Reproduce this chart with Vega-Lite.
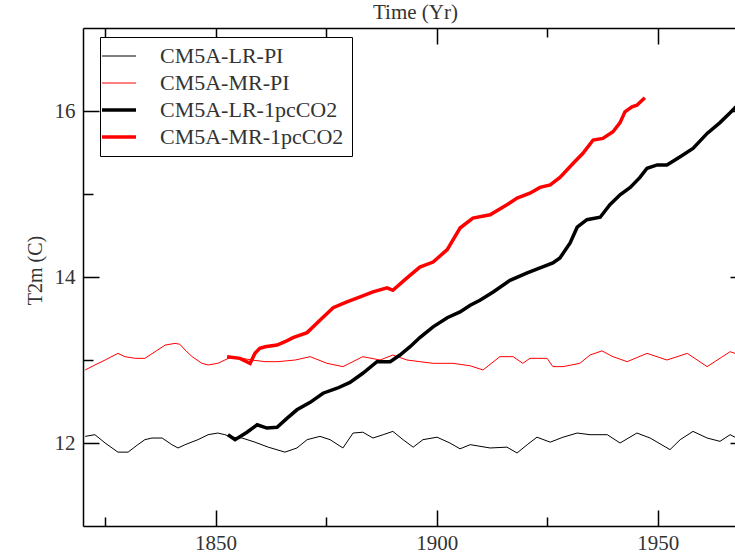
{
  "$schema": "https://vega.github.io/schema/vega-lite/v6.json",
  "autosize": "none",
  "width": 652,
  "height": 498,
  "padding": {"top": 28, "left": 83, "right": 0, "bottom": 29},
  "background": "white",
  "config": {
    "view": {"stroke": null},
    "font": "Liberation Serif",
    "axis": {"labelFont": "Liberation Serif", "titleFont": "Liberation Serif", "labelColor": "#333", "titleColor": "#333", "titleFontWeight": "normal", "domainColor": "black", "domainWidth": 1.5, "gridColor": "black", "gridOpacity": 1, "gridWidth": 1.5, "ticks": false},
    "legend": {"labelFont": "Liberation Serif"}
  },
  "datasets": {
    "thin": [
      {"year": 1820.5, "t": 12.08, "series": "CM5A-LR-PI"},
      {"year": 1822.7, "t": 12.10, "series": "CM5A-LR-PI"},
      {"year": 1825.0, "t": 12.00, "series": "CM5A-LR-PI"},
      {"year": 1827.9, "t": 11.89, "series": "CM5A-LR-PI"},
      {"year": 1830.2, "t": 11.89, "series": "CM5A-LR-PI"},
      {"year": 1832.4, "t": 11.98, "series": "CM5A-LR-PI"},
      {"year": 1834.0, "t": 12.04, "series": "CM5A-LR-PI"},
      {"year": 1835.6, "t": 12.06, "series": "CM5A-LR-PI"},
      {"year": 1837.9, "t": 12.06, "series": "CM5A-LR-PI"},
      {"year": 1840.1, "t": 11.98, "series": "CM5A-LR-PI"},
      {"year": 1841.5, "t": 11.94, "series": "CM5A-LR-PI"},
      {"year": 1843.1, "t": 11.98, "series": "CM5A-LR-PI"},
      {"year": 1846.0, "t": 12.04, "series": "CM5A-LR-PI"},
      {"year": 1848.3, "t": 12.10, "series": "CM5A-LR-PI"},
      {"year": 1850.5, "t": 12.12, "series": "CM5A-LR-PI"},
      {"year": 1852.1, "t": 12.10, "series": "CM5A-LR-PI"},
      {"year": 1853.7, "t": 12.07, "series": "CM5A-LR-PI"},
      {"year": 1856.0, "t": 12.06, "series": "CM5A-LR-PI"},
      {"year": 1858.9, "t": 12.01, "series": "CM5A-LR-PI"},
      {"year": 1861.9, "t": 11.95, "series": "CM5A-LR-PI"},
      {"year": 1865.7, "t": 11.89, "series": "CM5A-LR-PI"},
      {"year": 1868.4, "t": 11.94, "series": "CM5A-LR-PI"},
      {"year": 1870.7, "t": 12.04, "series": "CM5A-LR-PI"},
      {"year": 1873.6, "t": 12.08, "series": "CM5A-LR-PI"},
      {"year": 1875.9, "t": 12.04, "series": "CM5A-LR-PI"},
      {"year": 1878.8, "t": 11.94, "series": "CM5A-LR-PI"},
      {"year": 1881.1, "t": 12.12, "series": "CM5A-LR-PI"},
      {"year": 1883.3, "t": 12.13, "series": "CM5A-LR-PI"},
      {"year": 1885.6, "t": 12.06, "series": "CM5A-LR-PI"},
      {"year": 1887.9, "t": 12.10, "series": "CM5A-LR-PI"},
      {"year": 1890.1, "t": 12.14, "series": "CM5A-LR-PI"},
      {"year": 1892.4, "t": 12.04, "series": "CM5A-LR-PI"},
      {"year": 1894.7, "t": 11.95, "series": "CM5A-LR-PI"},
      {"year": 1896.9, "t": 12.04, "series": "CM5A-LR-PI"},
      {"year": 1900.1, "t": 12.07, "series": "CM5A-LR-PI"},
      {"year": 1903.0, "t": 12.00, "series": "CM5A-LR-PI"},
      {"year": 1905.3, "t": 11.93, "series": "CM5A-LR-PI"},
      {"year": 1907.6, "t": 11.98, "series": "CM5A-LR-PI"},
      {"year": 1912.1, "t": 11.94, "series": "CM5A-LR-PI"},
      {"year": 1915.9, "t": 11.95, "series": "CM5A-LR-PI"},
      {"year": 1918.2, "t": 11.88, "series": "CM5A-LR-PI"},
      {"year": 1920.5, "t": 11.98, "series": "CM5A-LR-PI"},
      {"year": 1922.7, "t": 12.07, "series": "CM5A-LR-PI"},
      {"year": 1925.7, "t": 12.01, "series": "CM5A-LR-PI"},
      {"year": 1928.6, "t": 12.07, "series": "CM5A-LR-PI"},
      {"year": 1931.8, "t": 12.12, "series": "CM5A-LR-PI"},
      {"year": 1934.7, "t": 12.10, "series": "CM5A-LR-PI"},
      {"year": 1938.6, "t": 12.10, "series": "CM5A-LR-PI"},
      {"year": 1941.5, "t": 12.00, "series": "CM5A-LR-PI"},
      {"year": 1945.3, "t": 12.12, "series": "CM5A-LR-PI"},
      {"year": 1948.3, "t": 12.06, "series": "CM5A-LR-PI"},
      {"year": 1952.8, "t": 11.92, "series": "CM5A-LR-PI"},
      {"year": 1955.1, "t": 12.04, "series": "CM5A-LR-PI"},
      {"year": 1958.0, "t": 12.14, "series": "CM5A-LR-PI"},
      {"year": 1961.2, "t": 12.06, "series": "CM5A-LR-PI"},
      {"year": 1964.1, "t": 12.02, "series": "CM5A-LR-PI"},
      {"year": 1966.4, "t": 12.10, "series": "CM5A-LR-PI"},
      {"year": 1967.5, "t": 12.07, "series": "CM5A-LR-PI"},
      {"year": 1969.5, "t": 12.05, "series": "CM5A-LR-PI"},
      {"year": 1820.5, "t": 12.88, "series": "CM5A-MR-PI"},
      {"year": 1822.7, "t": 12.94, "series": "CM5A-MR-PI"},
      {"year": 1825.0, "t": 13.00, "series": "CM5A-MR-PI"},
      {"year": 1827.9, "t": 13.08, "series": "CM5A-MR-PI"},
      {"year": 1829.5, "t": 13.04, "series": "CM5A-MR-PI"},
      {"year": 1831.8, "t": 13.02, "series": "CM5A-MR-PI"},
      {"year": 1834.0, "t": 13.02, "series": "CM5A-MR-PI"},
      {"year": 1836.3, "t": 13.10, "series": "CM5A-MR-PI"},
      {"year": 1838.6, "t": 13.18, "series": "CM5A-MR-PI"},
      {"year": 1840.8, "t": 13.20, "series": "CM5A-MR-PI"},
      {"year": 1841.9, "t": 13.19, "series": "CM5A-MR-PI"},
      {"year": 1843.1, "t": 13.12, "series": "CM5A-MR-PI"},
      {"year": 1844.7, "t": 13.04, "series": "CM5A-MR-PI"},
      {"year": 1846.9, "t": 12.96, "series": "CM5A-MR-PI"},
      {"year": 1848.3, "t": 12.94, "series": "CM5A-MR-PI"},
      {"year": 1850.5, "t": 12.96, "series": "CM5A-MR-PI"},
      {"year": 1852.1, "t": 13.00, "series": "CM5A-MR-PI"},
      {"year": 1853.7, "t": 13.04, "series": "CM5A-MR-PI"},
      {"year": 1856.0, "t": 13.02, "series": "CM5A-MR-PI"},
      {"year": 1858.2, "t": 13.00, "series": "CM5A-MR-PI"},
      {"year": 1861.2, "t": 12.98, "series": "CM5A-MR-PI"},
      {"year": 1864.1, "t": 12.98, "series": "CM5A-MR-PI"},
      {"year": 1868.0, "t": 13.00, "series": "CM5A-MR-PI"},
      {"year": 1871.4, "t": 13.04, "series": "CM5A-MR-PI"},
      {"year": 1875.2, "t": 12.96, "series": "CM5A-MR-PI"},
      {"year": 1878.8, "t": 12.92, "series": "CM5A-MR-PI"},
      {"year": 1883.3, "t": 13.04, "series": "CM5A-MR-PI"},
      {"year": 1887.2, "t": 13.00, "series": "CM5A-MR-PI"},
      {"year": 1890.1, "t": 13.06, "series": "CM5A-MR-PI"},
      {"year": 1893.3, "t": 13.00, "series": "CM5A-MR-PI"},
      {"year": 1896.2, "t": 12.98, "series": "CM5A-MR-PI"},
      {"year": 1899.2, "t": 12.96, "series": "CM5A-MR-PI"},
      {"year": 1903.7, "t": 12.96, "series": "CM5A-MR-PI"},
      {"year": 1907.6, "t": 12.93, "series": "CM5A-MR-PI"},
      {"year": 1910.5, "t": 12.88, "series": "CM5A-MR-PI"},
      {"year": 1914.3, "t": 13.04, "series": "CM5A-MR-PI"},
      {"year": 1917.3, "t": 13.04, "series": "CM5A-MR-PI"},
      {"year": 1919.5, "t": 12.96, "series": "CM5A-MR-PI"},
      {"year": 1921.1, "t": 13.02, "series": "CM5A-MR-PI"},
      {"year": 1925.0, "t": 13.02, "series": "CM5A-MR-PI"},
      {"year": 1926.3, "t": 12.92, "series": "CM5A-MR-PI"},
      {"year": 1928.6, "t": 12.92, "series": "CM5A-MR-PI"},
      {"year": 1932.4, "t": 12.96, "series": "CM5A-MR-PI"},
      {"year": 1934.7, "t": 13.06, "series": "CM5A-MR-PI"},
      {"year": 1937.4, "t": 13.11, "series": "CM5A-MR-PI"},
      {"year": 1939.9, "t": 13.04, "series": "CM5A-MR-PI"},
      {"year": 1943.1, "t": 12.98, "series": "CM5A-MR-PI"},
      {"year": 1947.6, "t": 13.08, "series": "CM5A-MR-PI"},
      {"year": 1952.1, "t": 13.00, "series": "CM5A-MR-PI"},
      {"year": 1956.7, "t": 13.08, "series": "CM5A-MR-PI"},
      {"year": 1961.2, "t": 12.92, "series": "CM5A-MR-PI"},
      {"year": 1966.4, "t": 13.10, "series": "CM5A-MR-PI"},
      {"year": 1967.5, "t": 13.08, "series": "CM5A-MR-PI"},
      {"year": 1969.5, "t": 13.07, "series": "CM5A-MR-PI"}
    ],
    "thick": [
      {"year": 1852.8, "t": 12.10, "series": "CM5A-LR-1pcCO2"},
      {"year": 1854.4, "t": 12.04, "series": "CM5A-LR-1pcCO2"},
      {"year": 1857.1, "t": 12.13, "series": "CM5A-LR-1pcCO2"},
      {"year": 1859.4, "t": 12.22, "series": "CM5A-LR-1pcCO2"},
      {"year": 1861.6, "t": 12.18, "series": "CM5A-LR-1pcCO2"},
      {"year": 1863.9, "t": 12.19, "series": "CM5A-LR-1pcCO2"},
      {"year": 1866.2, "t": 12.30, "series": "CM5A-LR-1pcCO2"},
      {"year": 1868.4, "t": 12.40, "series": "CM5A-LR-1pcCO2"},
      {"year": 1871.4, "t": 12.49, "series": "CM5A-LR-1pcCO2"},
      {"year": 1874.3, "t": 12.60, "series": "CM5A-LR-1pcCO2"},
      {"year": 1877.5, "t": 12.66, "series": "CM5A-LR-1pcCO2"},
      {"year": 1880.4, "t": 12.73, "series": "CM5A-LR-1pcCO2"},
      {"year": 1883.3, "t": 12.84, "series": "CM5A-LR-1pcCO2"},
      {"year": 1886.5, "t": 12.98, "series": "CM5A-LR-1pcCO2"},
      {"year": 1889.5, "t": 12.98, "series": "CM5A-LR-1pcCO2"},
      {"year": 1891.7, "t": 13.06, "series": "CM5A-LR-1pcCO2"},
      {"year": 1894.0, "t": 13.16, "series": "CM5A-LR-1pcCO2"},
      {"year": 1896.2, "t": 13.27, "series": "CM5A-LR-1pcCO2"},
      {"year": 1899.2, "t": 13.40, "series": "CM5A-LR-1pcCO2"},
      {"year": 1902.4, "t": 13.51, "series": "CM5A-LR-1pcCO2"},
      {"year": 1905.3, "t": 13.58, "series": "CM5A-LR-1pcCO2"},
      {"year": 1907.6, "t": 13.66, "series": "CM5A-LR-1pcCO2"},
      {"year": 1909.8, "t": 13.72, "series": "CM5A-LR-1pcCO2"},
      {"year": 1912.8, "t": 13.82, "series": "CM5A-LR-1pcCO2"},
      {"year": 1916.6, "t": 13.96, "series": "CM5A-LR-1pcCO2"},
      {"year": 1920.5, "t": 14.05, "series": "CM5A-LR-1pcCO2"},
      {"year": 1923.4, "t": 14.11, "series": "CM5A-LR-1pcCO2"},
      {"year": 1926.3, "t": 14.17, "series": "CM5A-LR-1pcCO2"},
      {"year": 1927.9, "t": 14.23, "series": "CM5A-LR-1pcCO2"},
      {"year": 1930.2, "t": 14.41, "series": "CM5A-LR-1pcCO2"},
      {"year": 1931.8, "t": 14.60, "series": "CM5A-LR-1pcCO2"},
      {"year": 1934.0, "t": 14.69, "series": "CM5A-LR-1pcCO2"},
      {"year": 1937.0, "t": 14.72, "series": "CM5A-LR-1pcCO2"},
      {"year": 1939.2, "t": 14.87, "series": "CM5A-LR-1pcCO2"},
      {"year": 1941.5, "t": 14.99, "series": "CM5A-LR-1pcCO2"},
      {"year": 1943.8, "t": 15.08, "series": "CM5A-LR-1pcCO2"},
      {"year": 1946.0, "t": 15.20, "series": "CM5A-LR-1pcCO2"},
      {"year": 1947.6, "t": 15.31, "series": "CM5A-LR-1pcCO2"},
      {"year": 1949.9, "t": 15.35, "series": "CM5A-LR-1pcCO2"},
      {"year": 1952.1, "t": 15.35, "series": "CM5A-LR-1pcCO2"},
      {"year": 1955.1, "t": 15.45, "series": "CM5A-LR-1pcCO2"},
      {"year": 1958.0, "t": 15.55, "series": "CM5A-LR-1pcCO2"},
      {"year": 1961.2, "t": 15.73, "series": "CM5A-LR-1pcCO2"},
      {"year": 1964.1, "t": 15.86, "series": "CM5A-LR-1pcCO2"},
      {"year": 1966.4, "t": 15.98, "series": "CM5A-LR-1pcCO2"},
      {"year": 1967.5, "t": 16.04, "series": "CM5A-LR-1pcCO2"},
      {"year": 1969.5, "t": 16.14, "series": "CM5A-LR-1pcCO2"},
      {"year": 1852.6, "t": 13.04, "series": "CM5A-MR-1pcCO2"},
      {"year": 1855.5, "t": 13.02, "series": "CM5A-MR-1pcCO2"},
      {"year": 1857.8, "t": 12.96, "series": "CM5A-MR-1pcCO2"},
      {"year": 1858.9, "t": 13.08, "series": "CM5A-MR-1pcCO2"},
      {"year": 1860.0, "t": 13.14, "series": "CM5A-MR-1pcCO2"},
      {"year": 1861.2, "t": 13.16, "series": "CM5A-MR-1pcCO2"},
      {"year": 1863.9, "t": 13.18, "series": "CM5A-MR-1pcCO2"},
      {"year": 1865.7, "t": 13.22, "series": "CM5A-MR-1pcCO2"},
      {"year": 1867.5, "t": 13.27, "series": "CM5A-MR-1pcCO2"},
      {"year": 1870.7, "t": 13.33, "series": "CM5A-MR-1pcCO2"},
      {"year": 1873.6, "t": 13.48, "series": "CM5A-MR-1pcCO2"},
      {"year": 1876.6, "t": 13.63, "series": "CM5A-MR-1pcCO2"},
      {"year": 1879.7, "t": 13.70, "series": "CM5A-MR-1pcCO2"},
      {"year": 1882.7, "t": 13.76, "series": "CM5A-MR-1pcCO2"},
      {"year": 1885.6, "t": 13.82, "series": "CM5A-MR-1pcCO2"},
      {"year": 1888.8, "t": 13.87, "series": "CM5A-MR-1pcCO2"},
      {"year": 1890.1, "t": 13.84, "series": "CM5A-MR-1pcCO2"},
      {"year": 1893.3, "t": 13.99, "series": "CM5A-MR-1pcCO2"},
      {"year": 1896.2, "t": 14.12, "series": "CM5A-MR-1pcCO2"},
      {"year": 1899.2, "t": 14.18, "series": "CM5A-MR-1pcCO2"},
      {"year": 1902.4, "t": 14.33, "series": "CM5A-MR-1pcCO2"},
      {"year": 1905.3, "t": 14.59, "series": "CM5A-MR-1pcCO2"},
      {"year": 1908.2, "t": 14.71, "series": "CM5A-MR-1pcCO2"},
      {"year": 1912.1, "t": 14.75, "series": "CM5A-MR-1pcCO2"},
      {"year": 1915.9, "t": 14.87, "series": "CM5A-MR-1pcCO2"},
      {"year": 1918.2, "t": 14.95, "series": "CM5A-MR-1pcCO2"},
      {"year": 1921.1, "t": 15.01, "series": "CM5A-MR-1pcCO2"},
      {"year": 1923.4, "t": 15.08, "series": "CM5A-MR-1pcCO2"},
      {"year": 1925.7, "t": 15.11, "series": "CM5A-MR-1pcCO2"},
      {"year": 1927.9, "t": 15.20, "series": "CM5A-MR-1pcCO2"},
      {"year": 1930.9, "t": 15.37, "series": "CM5A-MR-1pcCO2"},
      {"year": 1933.1, "t": 15.49, "series": "CM5A-MR-1pcCO2"},
      {"year": 1935.4, "t": 15.65, "series": "CM5A-MR-1pcCO2"},
      {"year": 1937.6, "t": 15.67, "series": "CM5A-MR-1pcCO2"},
      {"year": 1939.9, "t": 15.75, "series": "CM5A-MR-1pcCO2"},
      {"year": 1941.5, "t": 15.86, "series": "CM5A-MR-1pcCO2"},
      {"year": 1942.6, "t": 15.99, "series": "CM5A-MR-1pcCO2"},
      {"year": 1944.2, "t": 16.05, "series": "CM5A-MR-1pcCO2"},
      {"year": 1945.3, "t": 16.07, "series": "CM5A-MR-1pcCO2"},
      {"year": 1947.1, "t": 16.16, "series": "CM5A-MR-1pcCO2"}
    ]
  },
  "resolve": {"scale": {"x": "independent", "y": "independent"}, "axis": {"x": "independent", "y": "independent"}},
  "layer": [
    {
      "data": {"name": "thin"},
      "mark": {"type": "line", "clip": true, "strokeWidth": 1},
      "encoding": {
        "x": {"field": "year", "type": "quantitative",
          "scale": {"domain": [1820, 1967.5], "nice": false, "zero": false},
          "axis": {"orient": "bottom", "values": [1825, 1850, 1875, 1900, 1925, 1950], "format": "d",
            "labelExpr": "datum.value % 50 === 0 ? datum.label : ''",
            "labelFontSize": 21, "labelPadding": 6, "grid": true,
            "gridDash": {"condition": {"test": "datum.value % 50 === 0", "value": [16, 466, 16]}, "value": [9, 480, 9]},
            "title": null}},
        "y": {"field": "t", "type": "quantitative",
          "scale": {"domain": [11, 17], "nice": false, "zero": false},
          "axis": {"orient": "left", "values": [12, 13, 14, 15, 16],
            "labelExpr": "datum.value % 2 === 0 ? datum.label : ''",
            "labelFontSize": 21, "labelPadding": 8, "grid": true,
            "gridDash": {"condition": {"test": "datum.value % 2 === 0", "value": [16, 631, 16]}, "value": [10, 700]},
            "title": "T2m (C)", "titleFontSize": 20, "titlePadding": 9, "titleY": 242}},
        "color": {"field": "series", "type": "nominal",
          "scale": {"domain": ["CM5A-LR-PI", "CM5A-MR-PI", "CM5A-LR-1pcCO2", "CM5A-MR-1pcCO2"], "range": ["#000000", "#ff0000", "#000000", "#ff0000"]},
          "legend": {"orient": "none", "legendX": 17, "legendY": 9, "title": null,
            "symbolType": "stroke", "symbolSize": 1156, "labelOffset": 30, "labelFontSize": 22, "labelLimit": 400,
            "labelColor": "#333", "rowPadding": 5, "padding": 8, "fillColor": "white",
            "strokeColor": "black",
            "encode": {"symbols": {"update": {"strokeWidth": {"signal": "indexof(['CM5A-LR-1pcCO2', 'CM5A-MR-1pcCO2'], datum.value) >= 0 ? 3.5 : 1"}}}}}}
      }
    },
    {
      "data": {"name": "thick"},
      "mark": {"type": "line", "clip": true, "strokeWidth": 3.5},
      "encoding": {
        "x": {"field": "year", "type": "quantitative",
          "scale": {"domain": [1820, 1967.5], "nice": false, "zero": false},
          "axis": {"orient": "top", "labels": false, "grid": false, "title": "Time (Yr)",
            "titleFontSize": 21, "titlePadding": 10, "titleBaseline": "alphabetic", "titleX": 332}},
        "y": {"field": "t", "type": "quantitative",
          "scale": {"domain": [11, 17], "nice": false, "zero": false},
          "axis": null},
        "color": {"field": "series", "type": "nominal"}
      }
    }
  ]
}
